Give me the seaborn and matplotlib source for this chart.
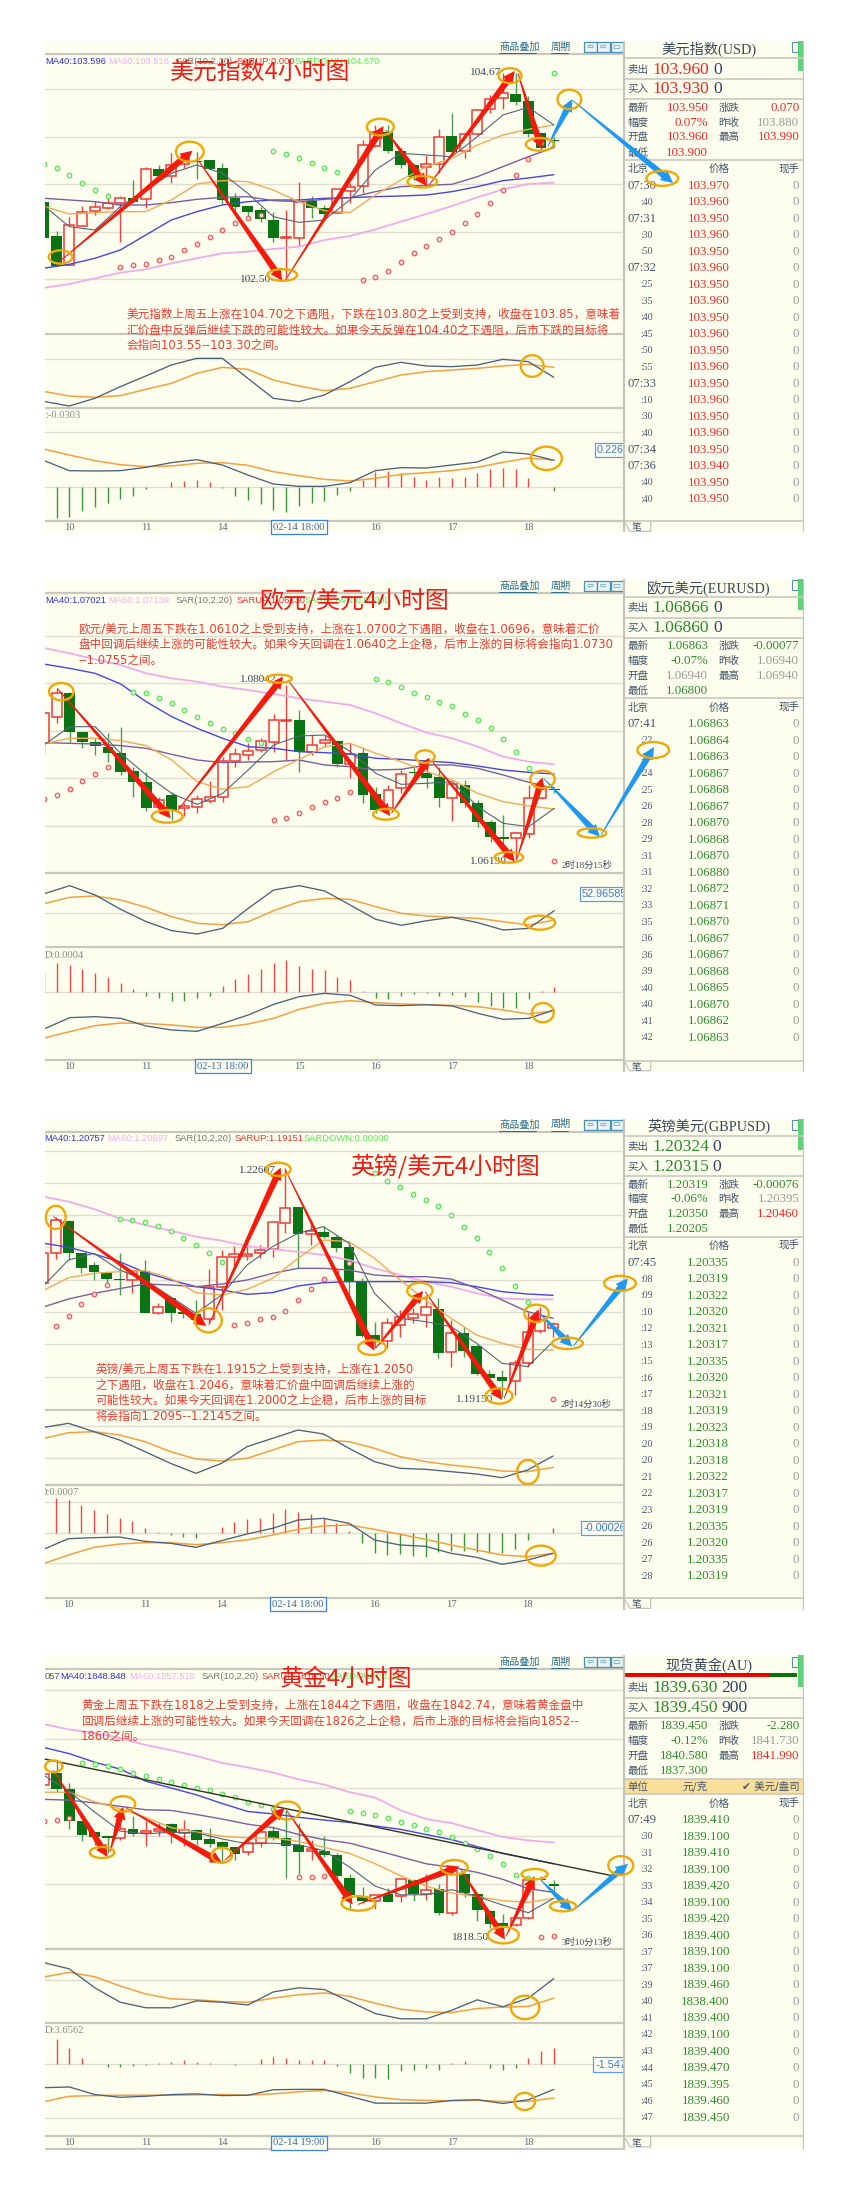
import numpy as np
import matplotlib
matplotlib.use("Agg")
import matplotlib.pyplot as plt
from matplotlib.patches import Ellipse, Rectangle
import seaborn as sns

sns.set_theme(style="white")
plt.rcParams['font.family'] = ['Noto Sans CJK SC', 'DejaVu Sans']
SERIF = ['Liberation Serif', 'Noto Sans CJK SC']
PARA = ['DejaVu Sans', 'Noto Sans CJK SC']
SANS = ['Liberation Sans', 'Noto Sans CJK SC']

W, H = 850, 2198
CREAM = '#FEFEEF'; RED = '#F02828'; GREEN = '#2C8C2C'; GREY = '#9A9A9A'; INK = '#44556A'

# shared sample positions of the moving-average style lines (candle index)
knots = [-0.9] + list(range(1, 40, 2))

# ---------- USD index (values are vertical readings of the picture's price scale)
usd_kind = "g g r r r r r g r g r r g g g g g g g r r g g r r r r g g g r r g r r r r g g g g".split()
usd_top = [517,618,585,545,530,520,503,505,416,418,404,385,392,391,414,503,528,541,570,622,517,513,533,478,470,344,305,305,362,405,403,320,318,313,241,208,188,192,213,310,330]
usd_bot = [623,708,706,587,542,533,520,517,507,437,437,402,395,416,509,530,545,567,623,625,625,533,551,550,482,468,349,362,405,440,410,403,365,362,313,236,205,217,313,355,333]
usd_high = [517,603,560,528,512,490,498,450,410,405,370,370,365,391,400,490,528,530,545,540,457,498,525,478,460,330,285,285,355,400,375,296,250,310,238,195,130,130,198,310,320]
usd_low = [623,708,706,587,555,537,637,520,533,440,460,415,447,416,522,540,570,575,635,750,648,565,560,550,520,490,350,370,415,450,470,430,370,385,315,250,238,225,320,360,350]
usd_ma_dark = [530,590,600,530,480,430,405,430,490,560,577,570,510,420,370,375,380,320,255,232,285]
usd_ma_orange = [530,552,548,545,545,510,462,452,455,480,515,542,548,495,450,410,385,345,315,298,285]
usd_ma_purple = [505,510,515,525,525,518,508,502,500,512,515,508,503,485,470,466,463,440,410,380,353]
usd_ma_blue = [714,703,685,660,615,570,545,525,515,510,510,505,503,500,498,495,485,470,452,444,434]
usd_ma_pink = [773,762,745,728,718,700,685,670,665,657,650,630,618,598,575,552,528,502,478,462,458]
usd_kdj_dark = [1115,1128,1105,1070,1038,1005,985,985,1045,1105,1115,1095,1055,1012,997,1008,1010,1005,988,995,1042]
usd_kdj_orange = [1085,1098,1102,1097,1078,1060,1030,1012,1018,1050,1068,1082,1075,1055,1035,1025,1020,1015,1008,1003,1012]
usd_macd_dark = [1293,1322,1323,1322,1312,1298,1289,1305,1335,1362,1369,1369,1358,1322,1313,1314,1305,1296,1266,1272,1291]
usd_macd_orange = [1258,1275,1292,1304,1310,1308,1300,1298,1306,1325,1337,1348,1353,1345,1333,1328,1322,1312,1297,1284,1290]
usd_hist = [1372,1465,1460,1443,1430,1418,1406,1398,1376,1370,1357,1352,1350,1355,1375,1398,1410,1423,1440,1445,1428,1418,1412,1395,1382,1350,1325,1322,1330,1340,1350,1340,1345,1342,1328,1318,1313,1318,1345,1372,1383]
usd_sar_green_i = [-1,0,1,2,3,4,17,18,19,20,21,22,39]
usd_sar_green = [402,414,436,459,479,497,364,372,384,400,414,427,128]
usd_sar_red_i = [5,6,7,8,9,10,11,12,13,14,15,16,24,25,26,27,28,29,30,31,32,33,34,35,36,37,38]
usd_sar_red = [711,706,702,690,680,660,643,621,600,580,565,555,749,740,722,695,670,648,627,607,578,551,520,481,436,387,340]

# ---------- EUR/USD
eur_kind = "r r g g g g g g g r g r r r r r r r r r g r r g r g g r r g g g r g g g g r r r g".split()
eur_top = [430,368,368,485,517,530,549,604,636,690,675,708,686,680,573,552,543,514,449,449,451,524,511,512,552,549,672,660,611,606,608,622,643,646,698,757,800,790,685,650,656]
eur_bot = [520,442,485,515,528,550,606,636,715,712,720,715,712,692,680,572,556,540,515,452,545,545,518,582,582,674,720,715,655,609,623,684,683,700,756,800,806,803,793,685,661]
eur_high = [428,355,365,485,505,490,472,590,605,680,665,700,675,632,560,535,520,505,432,345,420,495,495,510,520,530,650,645,600,585,580,590,640,630,690,750,735,785,645,640,650]
eur_low = [555,458,515,535,555,575,615,680,722,722,750,738,730,700,695,590,570,545,545,570,605,555,530,590,625,700,730,720,670,640,655,710,752,710,770,815,850,870,805,688,670]
eur_ma_dark = [522,470,470,550,615,670,703,670,600,525,498,495,545,610,643,640,635,710,760,770,715]
eur_ma_orange = [520,505,505,512,527,570,635,658,650,605,568,530,520,550,575,605,630,670,695,708,717]
eur_ma_purple = [518,520,522,527,535,553,570,578,576,575,570,585,590,600,598,585,585,595,615,637,655]
eur_ma_blue = [283,295,310,342,395,440,475,505,530,535,545,548,552,565,568,573,578,588,600,607,612]
eur_ma_pink = [235,250,268,285,310,325,335,350,360,372,385,395,405,430,460,488,505,530,560,575,583]
eur_kdj_dark = [970,947,975,1018,1055,1082,1092,1075,1015,960,947,963,1005,1048,1066,1052,1042,1058,1080,1075,1022]
eur_kdj_orange = [1000,982,978,990,1012,1040,1060,1064,1055,1022,995,985,988,1010,1030,1038,1042,1045,1055,1065,1050]
eur_macd_dark = [1375,1343,1340,1345,1368,1380,1384,1360,1335,1303,1280,1270,1276,1305,1307,1304,1308,1330,1348,1345,1320]
eur_macd_orange = [1403,1385,1367,1359,1360,1365,1372,1372,1362,1345,1318,1300,1292,1298,1302,1304,1306,1310,1320,1332,1322]
eur_hist = [1205,1178,1185,1198,1210,1222,1240,1258,1278,1285,1292,1292,1285,1278,1248,1226,1212,1198,1178,1170,1187,1196,1200,1220,1230,1262,1284,1288,1278,1272,1269,1279,1274,1281,1295,1308,1314,1313,1288,1263,1250]
eur_sar_green_i = [6,7,8,9,10,11,12,13,14,15,16,25,26,27,28,29,30,31,32,33,34,35,36,37]
eur_sar_green = [365,370,385,399,420,440,458,476,490,507,520,327,337,352,368,381,395,408,431,449,474,508,545,594]
eur_sar_red_i = [-1,0,1,2,3,4,17,18,19,20,21,22,23,39]
eur_sar_red = [687,676,658,633,613,592,750,744,728,712,696,683,667,872]

# ---------- GBP/USD
gbp_kind = "r r g g g g g r g r g g g r r r r r r r g r g g g g g r r r r g r g g g g r r r r".split()
gbp_top = [430,330,332,428,466,490,506,484,484,590,565,607,612,532,440,433,431,420,336,293,292,362,367,381,412,514,676,638,620,613,592,597,670,670,709,792,802,758,665,630,642]
gbp_bot = [520,430,428,474,487,508,509,510,608,608,610,613,630,628,530,440,438,430,418,338,372,372,381,413,514,677,692,693,646,624,614,728,727,723,793,803,812,813,758,663,655]
gbp_high = [430,320,330,428,455,485,430,484,450,578,560,585,570,477,420,408,400,405,336,175,290,330,348,375,395,505,635,625,600,595,555,565,630,650,705,780,780,750,605,590,635]
gbp_low = [530,448,450,488,510,530,555,548,610,612,637,625,640,640,600,470,450,445,440,370,475,405,383,425,560,680,715,715,680,640,650,745,770,740,795,815,860,855,770,668,680]
gbp_ma_dark = [525,450,430,480,510,560,610,555,465,410,370,350,400,550,625,635,650,700,760,770,695]
gbp_ma_orange = [540,503,490,485,482,505,548,555,538,505,445,390,395,445,510,570,625,675,700,718,720]
gbp_ma_purple = [590,567,550,536,522,525,530,522,510,490,475,475,480,495,500,500,507,535,570,605,625]
gbp_ma_blue = [400,412,432,455,487,510,530,540,553,548,528,518,515,515,515,515,518,530,545,552,556]
gbp_ma_pink = [260,275,297,325,345,362,380,392,408,418,425,435,450,475,495,515,530,550,565,568,568]
gbp_kdj_dark = [952,940,965,990,1025,1060,1090,1060,1010,985,960,972,1015,1055,1075,1078,1085,1092,1103,1080,1038]
gbp_kdj_orange = [985,968,965,975,995,1025,1047,1053,1045,1020,995,990,995,1015,1040,1055,1065,1073,1083,1085,1072]
gbp_macd_dark = [1317,1286,1283,1281,1294,1300,1312,1292,1272,1255,1230,1225,1240,1290,1305,1309,1330,1342,1363,1350,1330]
gbp_macd_orange = [1360,1335,1312,1302,1298,1298,1304,1298,1290,1275,1258,1248,1245,1258,1273,1288,1305,1320,1335,1340,1330]
gbp_hist = [1270,1165,1170,1185,1200,1213,1225,1232,1255,1265,1274,1280,1285,1270,1252,1235,1228,1223,1210,1198,1207,1212,1224,1238,1263,1300,1328,1335,1333,1338,1340,1325,1322,1322,1325,1328,1330,1318,1290,1268,1253]
gbp_sar_green_i = [5,6,7,8,9,10,11,12,13,25,26,27,28,29,30,31,32,33,34,35,36,37]
gbp_sar_green = [327,331,335,347,363,385,405,428,455,190,212,232,252,271,288,316,351,385,425,473,528,576]
gbp_sar_red_i = [0,1,2,3,4,14,15,16,17,18,19,20,21,22,23,39]
gbp_sar_red = [648,617,581,551,524,644,639,628,621,603,570,538,508,484,459,867]

# ---------- Gold
au_kind = "r g g g g g r g r r g r g g g g r r g g g r g g g g r g r g r g r g g g g r r g g".split()
au_top = [390,387,433,525,558,570,548,548,555,548,533,553,551,579,588,602,590,557,555,575,596,607,612,625,690,743,740,738,695,697,725,724,670,680,737,787,822,806,698,695,708]
au_bot = [422,433,525,567,572,576,575,562,560,556,560,560,580,593,602,622,615,590,575,597,616,613,625,685,740,759,757,761,742,738,737,792,792,736,785,825,830,829,806,698,714]
au_high = [390,350,415,525,558,565,500,510,525,530,530,522,548,545,585,600,585,550,540,495,530,580,570,620,680,718,738,720,695,695,680,708,665,678,735,785,795,800,695,685,698]
au_low = [422,440,550,585,595,620,580,570,597,570,590,597,595,600,645,640,625,600,580,690,680,640,630,690,780,765,780,762,760,758,755,800,800,745,815,835,860,830,810,700,740]
au_ma_dark = [395,440,500,555,563,558,560,578,592,590,595,612,660,715,740,740,725,745,770,792,750]
au_ma_orange = [442,442,470,490,515,545,558,570,575,575,585,602,620,650,685,715,735,745,757,762,750]
au_ma_purple = [463,465,473,483,493,495,507,520,535,545,565,580,590,610,630,650,660,675,695,722,733]
au_ma_blue = [313,330,355,375,410,430,450,475,498,505,515,523,530,540,550,565,580,600,620,635,650]
au_ma_pink = [245,260,270,285,305,320,337,357,370,385,405,420,442,458,495,520,532,552,572,582,588]
au_kdj_dark = [938,955,1010,1052,1068,1068,1048,1052,1060,1022,1010,1015,1050,1085,1100,1100,1075,1045,1065,1040,983]
au_kdj_orange = [978,965,978,1005,1028,1042,1045,1050,1052,1040,1030,1025,1035,1055,1072,1080,1082,1070,1066,1064,1040]
au_macd_dark = [1300,1298,1320,1328,1325,1320,1318,1323,1322,1306,1305,1305,1325,1345,1345,1345,1337,1335,1346,1335,1305]
au_macd_orange = [1340,1325,1323,1322,1322,1322,1321,1320,1322,1318,1312,1308,1315,1327,1335,1337,1338,1337,1340,1340,1330]
au_hist = [1231,1160,1186,1214,1230,1241,1239,1237,1233,1227,1225,1221,1226,1228,1231,1234,1231,1217,1212,1215,1219,1219,1221,1236,1258,1271,1271,1274,1253,1250,1242,1249,1228,1223,1231,1242,1248,1243,1215,1194,1186]
au_sar_green_i = [2,3,4,5,6,7,8,9,10,11,12,13,14,15,16,17,23,24,25,26,27,28,29,30,31,32,33,34,35,36,37]
au_sar_green = [357,361,366,376,385,396,404,413,422,430,437,446,457,469,479,490,496,501,507,518,528,538,549,557,572,590,607,627,651,682,690]
au_sar_red_i = [-1,0,1,19,20,21,38,39]
au_sar_red = [525,522,517,688,688,684,862,860]

# ---------- quote tables
usd_times = ["07:30",":40","07:31",":30",":50","07:32",":25",":35",":40",":45",":50",":55","07:33",":10",":30",":40","07:34","07:36",":40",":40"]
usd_prices = ["103.970","103.960","103.950","103.960","103.950","103.960","103.950","103.960","103.950","103.960","103.950","103.960","103.950","103.960","103.950","103.960","103.950","103.940","103.950","103.950"]
eur_times = ["07:41",":22",":23",":24",":25",":26",":28",":29",":31",":31",":32",":33",":35",":36",":36",":39",":40",":40",":41",":42"]
eur_prices = ["1.06863","1.06864","1.06863","1.06867","1.06868","1.06867","1.06870","1.06868","1.06870","1.06880","1.06872","1.06871","1.06870","1.06867","1.06867","1.06868","1.06865","1.06870","1.06862","1.06863"]
gbp_times = ["07:45",":08",":09",":10",":12",":13",":15",":16",":17",":18",":19",":20",":20",":21",":22",":23",":26",":26",":27",":28"]
gbp_prices = ["1.20335","1.20319","1.20322","1.20320","1.20321","1.20317","1.20335","1.20320","1.20321","1.20319","1.20323","1.20318","1.20318","1.20322","1.20317","1.20319","1.20335","1.20320","1.20335","1.20319"]
au_times = ["07:49",":30",":31",":32",":33",":34",":35",":36",":37",":37",":39",":40",":41",":42",":43",":44",":45",":46",":47"]
au_prices = ["1839.410","1839.100","1839.410","1839.100","1839.420","1839.100","1839.420","1839.400","1839.100","1839.100","1839.460","1838.400","1839.400","1839.100","1839.400","1839.470","1839.395","1839.460","1839.450"]

charts = [
 dict(p='usd', off=30, ys=3.0, top=33, bottom=1510, x0=143, grid=[176,320,461,605,748,988,1207,1372], thick=[72,911,1134,1473],
      base=1372, tool=50, ticky=1492, ticks=[(1,'10'),(7,'11'),(13,'14'),(25,'16'),(31,'17'),(37,'18')], cursor=(19,'02-14 18:00'),
      title=("美元指数4小时图",430,125),
      legend=[("MA40:103.596",114,'#3030F0'),("MA60:103.516",275,'#F4B0EC'),("SAR(10,2,20)",445,'#777777'),("SARUP:0.000",597,'#F03030'),("SARDOWN:104.670",745,'#50F050')], legy=95,
      para=(320,["美元指数上周五上涨在104.70之下遇阻，下跌在103.80之上受到支持，收盘在103.85，意味着","汇价盘中反弹后继续下跌的可能性较大。如果今天反弹在104.40之下遇阻，后市下跌的目标将","会指向103.55--103.30之间。"],[852,900,947]),
      marks=[("104.67",1185,128),("102.50",605,750)], count=None, dlabel=(":-0.0303",114,1157), box=("0.226",1510,1260),
      red=[(150,695,487,362),(498,385,714,752),(722,750,970,288),(975,300,1078,467),(1085,465,1302,123),(1310,130,1370,358)],
      blue=[(1385,350,1447,208),(1447,210,1702,459)],
      rings=[(153,681,60,40),(480,365,70,60),(714,735,75,35),(962,291,68,50),(1068,455,75,35),(1290,137,58,45),(1365,343,70,38),(1440,208,60,58),(1675,445,80,45),(1346,1008,58,65),(1382,1285,78,70)]),
 dict(p='eur', off=570, ys=3.0, top=28, bottom=1505, x0=144, grid=[197,339,482,624,767,1030,1266], thick=[68,908,1130,1471],
      base=1266, tool=47, ticky=1488, ticks=[(1,'10'),(7,'11'),(19,'15'),(25,'16'),(31,'17'),(37,'18')], cursor=(13,'02-13 18:00'),
      title=("欧元/美元4小时图",655,92),
      legend=[("MA40:1.07021",114,'#3030F0'),("MA60:1.07139",275,'#F4B0EC'),("SAR(10,2,20)",445,'#777777'),("SARUP:1.06130",597,'#F03030'),("SARDOWN:0.00000",770,'#50F050')], legy=92,
      para=(198,["欧元/美元上周五下跌在1.0610之上受到支持，上涨在1.0700之下遇阻，收盘在1.0696，意味着汇价","盘中回调后继续上涨的可能性较大。如果今天回调在1.0640之上企稳，后市上涨的目标将会指向1.0730","--1.0755之间。"],[177,224,271]),
      marks=[("1.08042",605,328),("1.06130",1185,873)], count=("2时18分15秒",1420,887), dlabel=("D:0.0004",112,1155), box=("52.96585",1472,972),
      red=[(145,355,432,745),(450,720,716,320),(728,330,987,738),(990,730,1087,563),(1090,570,1302,875),(1308,865,1372,622)],
      blue=[(1375,625,1517,800),(1520,795,1654,531)],
      rings=[(155,365,62,52),(423,739,78,38),(705,326,66,24),(976,733,65,32),(1075,560,48,38),(1287,862,72,32),(1372,628,62,52),(1497,789,72,28),(1652,540,80,48),(1365,1058,78,42),(1373,1328,55,58)]),
 dict(p='gbp', off=1110, ys=3.0, top=28, bottom=1500, x0=141, grid=[122,219,316,411,509,606,703,800,947,1043,1177,1270,1360], thick=[65,900,1125,1465],
      base=1270, tool=43, ticky=1483, ticks=[(1,'10'),(7,'11'),(13,'14'),(25,'16'),(31,'17'),(37,'18')], cursor=(19,'02-14 18:00'),
      title=("英镑/美元4小时图",885,172),
      legend=[("MA40:1.20757",112,'#3030F0'),("MA60:1.20697",272,'#F4B0EC'),("SAR(10,2,20)",442,'#777777'),("SARUP:1.19151",593,'#F03030'),("SARDOWN:0.00000",767,'#50F050')], legy=87,
      para=(242,["英镑/美元上周五下跌在1.1915之上受到支持，上涨在1.2050","之下遇阻，收盘在1.2046，意味着汇价盘中回调后继续上涨的","可能性较大。如果今天回调在1.2000之上企稳，后市上涨的目标","将会指向1.2095--1.2145之间。"],[777,825,872,918]),
      marks=[("1.22607",603,182),("1.19150",1152,868)], count=("2时14分30秒",1418,882), dlabel=("D:0.0007",100,1148), box=("-0.00026",1475,1255),
      red=[(135,320,522,648),(528,645,710,173),(722,180,947,722),(950,715,1070,543),(1075,545,1270,870),(1275,865,1362,598)],
      blue=[(1365,610,1447,710),(1450,708,1588,505)],
      rings=[(141,322,50,70),(527,631,68,72),(704,178,62,40),(941,713,70,44),(1062,542,64,48),(1262,858,68,46),(1357,610,62,52),(1435,700,78,34),(1568,520,80,45),(1335,1086,55,72),(1368,1337,75,60)]),
 dict(p='au', off=1640, ys=2.904, top=45, bottom=1480, x0=143, grid=[145,288,430,570,710,987,1231,1387], thick=[84,896,1113,1440,1478],
      base=1231, tool=63, ticky=1460, ticks=[(1,'10'),(7,'11'),(13,'14'),(25,'16'),(31,'17'),(37,'18')], cursor=(19,'02-14 19:00'),
      title=("黄金4小时图",708,116),
      legend=[("057",114,INK),("MA40:1848.848",153,'#3030F0'),("MA60:1857.515",328,'#F4B0EC'),("SAR(10,2,20)",510,'#777777'),("SARUP:1818.50",662,'#F03030'),("SARDOWN:0.00",835,'#50F050')], legy=106,
      para=(205,["黄金上周五下跌在1818之上受到支持，上涨在1844之下遇阻，收盘在1842.74，意味着黄金盘中","回调后继续上涨的可能性较大。如果今天回调在1826之上企稳，后市上涨的目标将会指向1852--","1860之间。"],[189,236,281]),
      marks=[("1818.50",1140,863)], count=("3时10分13秒",1420,877), dlabel=("D:3.6562",112,1135), box=("-1.547",1505,1233),
      red=[(135,378,272,630),(278,615,311,485),(318,487,562,648),(568,640,720,488),(725,495,892,768),(905,768,1162,658),(1165,665,1277,870),(1280,860,1352,686)],
      blue=[(1370,700,1447,787),(1450,785,1588,650)],
      rings=[(136,367,44,34),(258,617,62,32),(311,476,62,45),(561,625,52,44),(726,495,66,52),(906,765,85,42),(1149,660,68,42),(1273,857,78,48),(1352,680,66,30),(1424,773,66,30),(1570,655,63,55),(1328,1067,72,68),(1327,1340,52,50)]),
]

quotes = [
 dict(off=20, ys=3.0, top=62, bottom=1535, title="美元指数(USD)", titley=88, ask=("103.960","0"), bid=("103.930","0"), big=RED, asky=150, bidy=208,
      rowy=[263,308,352,398], lines=[115,177,238,420,1503], heady=448, first=497, step=49.5, times=usd_times, prices=usd_prices, pricex=297, colp=RED, taby=1522, sizex=310,
      vals=[("103.950",RED),("0.070",RED),("0.07%",RED),("103.880",GREY),("103.960",RED),("103.990",RED),("103.900",RED)]),
 dict(off=570, ys=3.0, top=28, bottom=1505, title="欧元美元(EURUSD)", titley=55, ask=("1.06866","0"), bid=("1.06860","0"), big=GREEN, asky=115, bidy=175,
      rowy=[228,273,318,364], lines=[82,143,204,385,1472], heady=413, first=463, step=49.5, times=eur_times, prices=eur_prices, pricex=297, colp=GREEN, taby=1490, sizex=310,
      vals=[("1.06863",GREEN),("-0.00077",GREEN),("-0.07%",GREEN),("1.06940",GREY),("1.06940",GREY),("1.06940",GREY),("1.06800",GREEN)]),
 dict(off=1110, ys=3.0, top=28, bottom=1500, title="英镑美元(GBPUSD)", titley=50, ask=("1.20324","0"), bid=("1.20315","0"), big=GREEN, asky=110, bidy=170,
      rowy=[224,268,313,358], lines=[77,138,199,380,1465], heady=408, first=458, step=49.5, times=gbp_times, prices=gbp_prices, pricex=294, colp=GREEN, taby=1483, sizex=307,
      vals=[("1.20319",GREEN),("-0.00076",GREEN),("-0.06%",GREEN),("1.20395",GREY),("1.20350",GREEN),("1.20460",RED),("1.20205",GREEN)]),
 dict(off=1640, ys=2.904, top=45, bottom=1480, title="现货黄金(AU)", titley=72, ask=("1839.630","200"), bid=("1839.450","900"), big=GREEN, asky=140, bidy=198,
      rowy=[250,294,338,381], lines=[167,227,403,447,1441], heady=475, first=523, step=48, times=au_times, prices=au_prices, pricex=287, colp=GREEN, taby=1460, sizex=335,
      vals=[("1839.450",GREEN),("-2.280",GREEN),("-0.12%",GREEN),("1841.730",GREY),("1840.580",GREEN),("1841.990",RED),("1837.300",GREEN)]),
]

fig = plt.figure(figsize=(W/100, H/100), dpi=100, facecolor='white')
SX = 1568/620      # picture-reading units per pixel, horizontally
DX = 32.25

def place(l, r, t, b):
    return [l/W, 1-b/H, (r-l)/W, (b-t)/H]

def hide(ax):
    ax.set_xticks([]); ax.set_yticks([]); ax.set(xlabel='', ylabel='')
    for s in ax.spines.values():
        s.set_visible(False)

def tapered(ax, xi, seg, color, w=3.2, hw=6, hl=12):
    a = ax.transData.transform((xi(seg[0]), seg[1]))
    b = ax.transData.transform((xi(seg[2]), seg[3]))
    d = (b-a)/np.hypot(*(b-a)); n = np.array([-d[1], d[0]])
    base = b-d*hl
    poly = np.array([a+n*.4, base+n*w, base+n*hw, b, base-n*hw, base-n*w, a-n*.4])
    poly = ax.transData.inverted().transform(poly)
    ax.fill(poly[:, 0], poly[:, 1], color=color, lw=0, clip_on=False, zorder=20)

# ---------- quote panels (drawn first, so arrows pass over them)
for q in quotes:
    t = q['off']+q['top']/q['ys']; b = q['off']+q['bottom']/q['ys']
    ax = fig.add_axes(place(623.3, 804.3, t, b), facecolor=CREAM, zorder=1)
    ax.set_xlim(40, 583); ax.set_ylim(q['bottom'], q['top'])
    hide(ax)
    for y in q['lines']:
        ax.axhline(y, color='#C8C8C0', lw=1.2)
    ax.axvline(41, color='#C4C4BC', lw=1.6); ax.axvline(582, color='#C4C4BC', lw=1.6)
    ax.add_patch(Rectangle((545, q['top']+3), 20, 30, fill=False, ec='#5A90A8', lw=.8))
    ax.add_patch(Rectangle((563, q['top']), 15, 92, fc='#44CC66', ec='none', alpha=.85))
    ax.text(297, q['titley'], q['title'], ha='center', va='center', fontsize=10.3, color='#3A4A5A', family=SERIF)
    if q['title'].startswith('现货'):
        ax.add_patch(Rectangle((42, 97), 438, 10, fc='#F00000', ec='none'))
        ax.add_patch(Rectangle((480, 97), 82, 10, fc='#107010', ec='none'))
        ax.add_patch(Rectangle((42, 404), 538, 43, fc='#F9DF9A', ec='none'))
        ax.text(52, 426, "单位", va='center', fontsize=7.6, color=INK)
        ax.text(255, 426, "元/克", va='center', ha='center', fontsize=7.6, color=INK)
        ax.text(568, 426, "✔ 美元/盎司", va='center', ha='right', fontsize=7.6, color=INK, family=['DejaVu Sans', 'Noto Sans CJK SC'])
    for lab, (val, n), y in (("卖出", q['ask'], q['asky']), ("买入", q['bid'], q['bidy'])):
        ax.text(52, y, lab, va='center', fontsize=7.6, color=INK)
        ax.text(128, y, val, va='center', fontsize=12.6, color=q['big'], family=SERIF)
        ax.text(q['sizex'], y, n, va='center', fontsize=12.6, color='#334466', family=SERIF)
    labs = ["最新", "涨跌", "幅度", "昨收", "开盘", "最高", "最低"]
    rows = [q['rowy'][0], q['rowy'][0], q['rowy'][1], q['rowy'][1], q['rowy'][2], q['rowy'][2], q['rowy'][3]]
    for k, (lab, y, (val, col)) in enumerate(zip(labs, rows, q['vals'])):
        right = k % 2 == 1
        ax.text(325 if right else 52, y, lab, va='center', fontsize=7.6, color=INK)
        ax.text(568 if right else 295, y, val, va='center', ha='right', fontsize=9.3, color=col, family=SERIF)
    ax.text(52, q['heady'], "北京", va='center', fontsize=7.6, color=INK)
    ax.text(327, q['heady'], "价格", va='center', ha='center', fontsize=7.6, color=INK)
    ax.text(568, q['heady'], "现手", va='center', ha='right', fontsize=7.6, color=INK)
    for k, (tm, pr) in enumerate(zip(q['times'], q['prices'])):
        y = q['first']+k*q['step']
        if tm.startswith(':'):
            ax.text(128, y, tm, va='center', ha='right', fontsize=7, color=INK, family=SERIF)
        else:
            ax.text(52, y, tm, va='center', fontsize=9.2, color=INK, family=SERIF)
        ax.text(q['pricex'], y, pr, va='center', ha='center', fontsize=9.3, color=q['colp'], family=SERIF)
        ax.text(568, y, "0", va='center', ha='right', fontsize=9.3, color=GREY, family=SERIF)
    ax.text(80, q['taby'], "笔", va='center', ha='center', fontsize=7, color=INK)
    ax.plot([42, 60, 122, 122], [q['lines'][-1], q['taby']+12, q['taby']+12, q['lines'][-1]], color='#C4C4BC', lw=.9, clip_on=False)

# ---------- chart blocks
for c in charts:
    p = c['p']; v = globals()
    x0 = c['x0']
    xi = lambda u, x0=x0: (u-x0)/DX
    t = c['off']+c['top']/c['ys']; b = c['off']+c['bottom']/c['ys']
    ax = fig.add_axes(place(45, 623, t, b), facecolor=CREAM, zorder=2)
    ax.set_xlim(xi(45*SX), xi(623*SX)); ax.set_ylim(c['bottom'], c['top'])

    for y in c['grid']:
        ax.axhline(y, color='#DEDED2', lw=1, zorder=1)
    for y in c['thick']:
        ax.axhline(y, color='#C8C8C0', lw=1.6, zorder=1)

    # candlesticks
    idx = np.arange(-1, 40)
    kind = np.array(v[p+'_kind'])
    top, bot = np.array(v[p+'_top'], float), np.array(v[p+'_bot'], float)
    hi, lo = np.array(v[p+'_high'], float), np.array(v[p+'_low'], float)
    up = kind == 'r'
    ax.vlines(idx[up], hi[up], lo[up], color='#F04040', lw=1, zorder=3)
    ax.vlines(idx[~up], hi[~up], lo[~up], color='#4A9A58', lw=1, zorder=3)
    ax.bar(idx[up], (bot-top)[up], bottom=top[up], width=.78, facecolor=CREAM, edgecolor='#F03838', lw=1.1, zorder=4)
    ax.bar(idx[~up], (bot-top)[~up], bottom=top[~up], width=.84, color='#0A7414', lw=0, zorder=4)

    # moving averages
    for name, col, lw in (('pink', '#F2ABEA', 1.3), ('blue', '#4545E8', 1.0), ('purple', '#7C5E9E', 1.0), ('orange', '#F2AA55', 1.0), ('dark', '#52667A', .8)):
        sns.lineplot(x=knots, y=v[f'{p}_ma_{name}'], ax=ax, color=col, lw=lw, estimator=None, sort=False, legend=False, zorder=5)

    # SAR dots
    sns.scatterplot(x=v[p+'_sar_red_i'], y=v[p+'_sar_red'], ax=ax, s=11, color='#FFDADA', edgecolor='#EE5050', linewidth=.8, legend=False, zorder=6)
    sns.scatterplot(x=v[p+'_sar_green_i'], y=v[p+'_sar_green'], ax=ax, s=11, color='#D8FFD8', edgecolor='#50E050', linewidth=.8, legend=False, zorder=6)

    # KDJ and MACD
    for nm, col, lw in (('orange', '#F4A040', 1.1), ('dark', '#4C6278', .95)):
        sns.lineplot(x=knots, y=v[f'{p}_kdj_{nm}'], ax=ax, color=col, lw=lw, estimator=None, sort=False, legend=False, zorder=5)
        sns.lineplot(x=knots, y=v[f'{p}_macd_{nm}'], ax=ax, color=col, lw=lw, estimator=None, sort=False, legend=False, zorder=5)
    hist = np.array(v[p+'_hist'], float)
    pos = hist < c['base']
    ax.vlines(idx[pos], hist[pos], c['base'], color='#F04848', lw=1, zorder=3)
    ax.vlines(idx[~pos], c['base'], hist[~pos], color='#3C963C', lw=1, zorder=3)

    # axis labels along the bottom strip
    for i, s in c['ticks']:
        ax.text(i, c['ticky'], s, ha='center', va='center', fontsize=7.6, color='#5A6A78', family=SERIF, zorder=7)
    i, s = c['cursor']
    ax.text(i, c['ticky'], s, ha='center', va='center', fontsize=7.7, color='#3A6AA8', family=SERIF, zorder=7,
            bbox=dict(boxstyle='square,pad=0.22', fc=CREAM, ec='#3A80F0', lw=.9))

    # toolbar
    ax.text(xi(1263), c['tool'], "商品叠加", va='center', fontsize=7.3, color='#2B6E8F', zorder=7)
    ax.text(xi(1393), c['tool'], "周期", va='center', fontsize=7.3, color='#2B6E8F', zorder=7)
    for a0, a1 in ((1263, 1355), (1393, 1437)):
        ax.plot([xi(a0), xi(a1)], [c['tool']+19]*2, color='#2B6E8F', lw=.7, zorder=7)
    for a0, g in ((1478, '⇦'), (1511, '⇨'), (1544, '▭')):
        ax.add_patch(Rectangle((xi(a0), c['tool']-14), 31/DX, 30, fc='#EAF4F4', ec='#4A90B0', lw=.9, zorder=7))
        ax.text(xi(a0+15), c['tool'], g, ha='center', va='center', fontsize=6, color='#4A90B0', family='DejaVu Sans', zorder=8)

    # legend row
    for s, a, col in c['legend']:
        ax.text(xi(a), c['legy'], s, va='center', fontsize=6.75, color=col, family=SANS, zorder=8, clip_on=True)

    # drawn-on annotations
    for s, a, y in c['marks']:
        ax.text(xi(a), y, s, va='center', fontsize=8.2, color='#3A4A5A', family=SERIF, zorder=8)
    if c['count']:
        s, a, y = c['count']
        ax.text(xi(a), y, s, va='center', fontsize=6.7, color='#3A4A5A', family=SERIF, zorder=8)
    s, a, y = c['dlabel']
    ax.text(xi(a), y, s, va='center', fontsize=7.6, color='#8A8A8A', family=SERIF, zorder=8, clip_on=True)
    s, a, y = c['box']
    ax.text(xi(a), y, s, va='center', fontsize=7.8, color='#3A78D8', family=SANS, zorder=8, clip_on=True,
            bbox=dict(boxstyle='square,pad=0.2', fc=CREAM, ec='#5A9AF0', lw=.9))

    s, a, y = c['title']
    ax.text(xi(a), y, s, va='center', fontsize=17.2, color='#F41A14', zorder=22)
    a, lines_, ys_ = c['para']
    for s, y in zip(lines_, ys_):
        ax.text(xi(a), y, s, va='center', fontsize=8.35, color='#F23A30', family=PARA, zorder=22, clip_on=False)

    if p == 'au':
        ax.plot([xi(114), xi(1550)], [346, 685], color='#333322', lw=1, zorder=9, clip_on=False)
    for seg in c['red']:
        tapered(ax, xi, seg, '#F41A0C')
    for seg in c['blue']:
        tapered(ax, xi, seg, '#1E98F0')
    for (a, y, w_, h_) in c['rings']:
        ax.add_patch(Ellipse((xi(a), y), w_/DX, h_, fill=False, ec='#F0A808', lw=1.7, clip_on=False, zorder=21))

    ax.set_xlim(xi(45*SX), xi(623*SX)); ax.set_ylim(c['bottom'], c['top'])
    hide(ax)

fig.savefig('out.png', dpi=100, facecolor='white')
